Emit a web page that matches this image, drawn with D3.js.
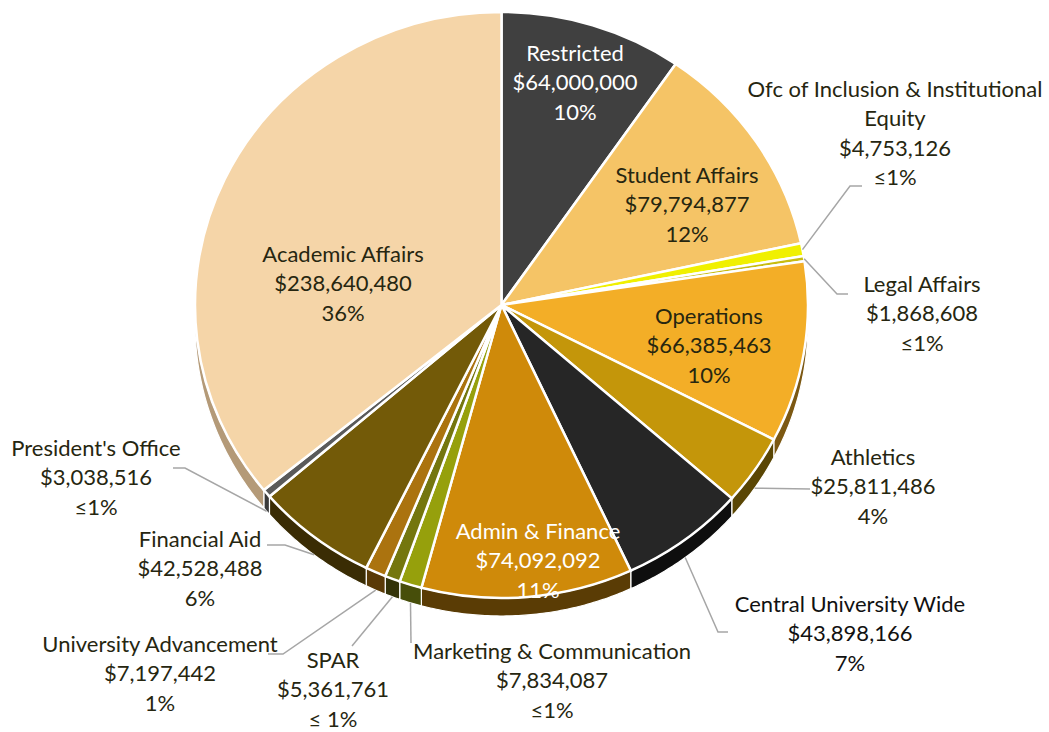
<!DOCTYPE html>
<html>
<head>
<meta charset="utf-8">
<script src="https://cdn.jsdelivr.net/npm/d3@7"></script>
<style>
  body { margin: 0; background: #fff; }
  text { font-family: Lato, 'Open Sans', sans-serif; font-size: 22px; }
</style>
</head>
<body>
<svg id="chart" width="1049" height="732"></svg>
<script>
// slices, clockwise from 12 o'clock
var names = ['Restricted', 'Student Affairs', 'Ofc of Inclusion & Institutional\nEquity', 'Legal Affairs',
  'Operations', 'Athletics', 'Central University Wide', 'Admin & Finance', 'Marketing & Communication',
  'SPAR', 'University Advancement', 'Financial Aid', "President's Office", 'Academic Affairs'];
var values = [64000000, 79794877, 4753126, 1868608, 66385463, 25811486, 43898166, 74092092,
  7834087, 5361761, 7197442, 42528488, 3038516, 238640480];
var pctLabels = ['10%', '12%', '≤1%', '≤1%', '10%', '4%', '7%', '11%', '≤1%', '≤ 1%', '1%', '6%', '≤1%', '36%'];

var topColors = ['#404040', '#f5c466', '#f0f000', '#c8bc10', '#f3ae27', '#c4960a', '#262626', '#cf8a0a',
  '#96a00c', '#74760e', '#ab730f', '#735a08', '#5a5a5a', '#f5d5a8'];
var sideColors = ['#222', '#8a6c30', '#8a8a00', '#6e680a', '#7c5812', '#5a4604', '#0e0e0e', '#5a3c05',
  '#474e0a', '#333308', '#5a3a06', '#3a2c04', '#3a3a3a', '#b49a78'];

// label layout: centre x, first line y, text colour, leader elbow + end (none = inside label)
var labelLayout = [
  { x: 575, y: 53, fill: '#fff' },
  { x: 687, y: 175, fill: '#262610' },
  { x: 895, y: 89, fill: '#262610', elbow: [850, 186], end: [862, 186] },
  { x: 922, y: 284, fill: '#262610', elbow: [837, 294], end: [848, 294] },
  { x: 709, y: 316, fill: '#262610' },
  { x: 873, y: 457, fill: '#262610', elbow: [810, 489], end: [810, 489] },
  { x: 850, y: 604, fill: '#111', elbow: [718, 632], end: [728, 632] },
  { x: 538, y: 531, fill: '#fff' },
  { x: 552, y: 651, fill: '#262610', elbow: [411, 643], end: [411, 643] },
  { x: 333, y: 660, fill: '#262610', elbow: [352, 646], end: [352, 646] },
  { x: 160, y: 644, fill: '#262610', elbow: [283, 654], end: [268, 654] },
  { x: 200, y: 539, fill: '#262610', elbow: [285, 545], end: [267, 545] },
  { x: 96, y: 448, fill: '#262610', elbow: [185, 468], end: [173, 468] },
  { x: 343, y: 254, fill: '#262610' }
];

var cx = 501.5, cy = 305, rx = 306.5, ry = 293, depth = 18, lineH = 29.5;

var fmt = d3.format('$,');
var data = names.map(function (n, i) { return { name: n, value: values[i], pct: pctLabels[i], i: i }; });

var pie = d3.pie().sort(null).value(function (d) { return d.value; })
  .startAngle(0).endAngle(2 * Math.PI);
var arcs = pie(data);

var svg = d3.select('#chart');

function pt(a, dy) {
  return [cx + rx * Math.sin(a), cy - ry * Math.cos(a) + (dy || 0)];
}

// side walls on the front half
var sideG = svg.append('g');
var line = d3.line();
arcs.forEach(function (d) {
  var a0 = Math.max(d.startAngle, Math.PI / 2), a1 = Math.min(d.endAngle, 3 * Math.PI / 2);
  if (a0 >= a1) return;
  var n = Math.max(2, Math.ceil((a1 - a0) / 0.01));
  var topPts = d3.range(n + 1).map(function (k) { return pt(a0 + (a1 - a0) * k / n); });
  var botPts = topPts.map(function (p) { return [p[0], p[1] + depth]; }).reverse();
  sideG.append('path')
    .attr('d', line(topPts.concat(botPts)) + 'Z')
    .attr('fill', sideColors[d.data.i])
    .attr('stroke', '#fff')
    .attr('stroke-width', 1.2);
});

// top faces
var arc = d3.arc().innerRadius(0).outerRadius(rx);
var topG = svg.append('g')
  .attr('transform', 'translate(' + cx + ',' + cy + ') scale(1,' + (ry / rx) + ')');
topG.selectAll('path')
  .data(arcs)
  .enter().append('path')
  .attr('d', arc)
  .attr('fill', function (d) { return topColors[d.data.i]; })
  .attr('stroke', '#fff')
  .attr('stroke-width', 2.5)
  .attr('vector-effect', 'non-scaling-stroke');

// leader lines
arcs.forEach(function (d) {
  var L = labelLayout[d.data.i];
  if (!L.elbow) return;
  var mid = (d.startAngle + d.endAngle) / 2;
  var front = mid > Math.PI / 2 && mid < 3 * Math.PI / 2;
  var s = pt(mid, front ? depth : 0);
  svg.append('path')
    .attr('d', line([s, L.elbow, L.end]))
    .attr('fill', 'none')
    .attr('stroke', '#a6a6a6')
    .attr('stroke-width', 1.5);
});

// labels
arcs.forEach(function (d) {
  var L = labelLayout[d.data.i];
  var lines = d.data.name.split('\n').concat([fmt(d.data.value), d.data.pct]);
  var t = svg.append('text')
    .attr('text-anchor', 'middle')
    .attr('fill', L.fill);
  lines.forEach(function (s, k) {
    t.append('tspan')
      .attr('x', L.x)
      .attr('y', L.y + k * lineH)
      .attr('dy', '0.35em')
      .text(s);
  });
});
</script>
</body>
</html>
